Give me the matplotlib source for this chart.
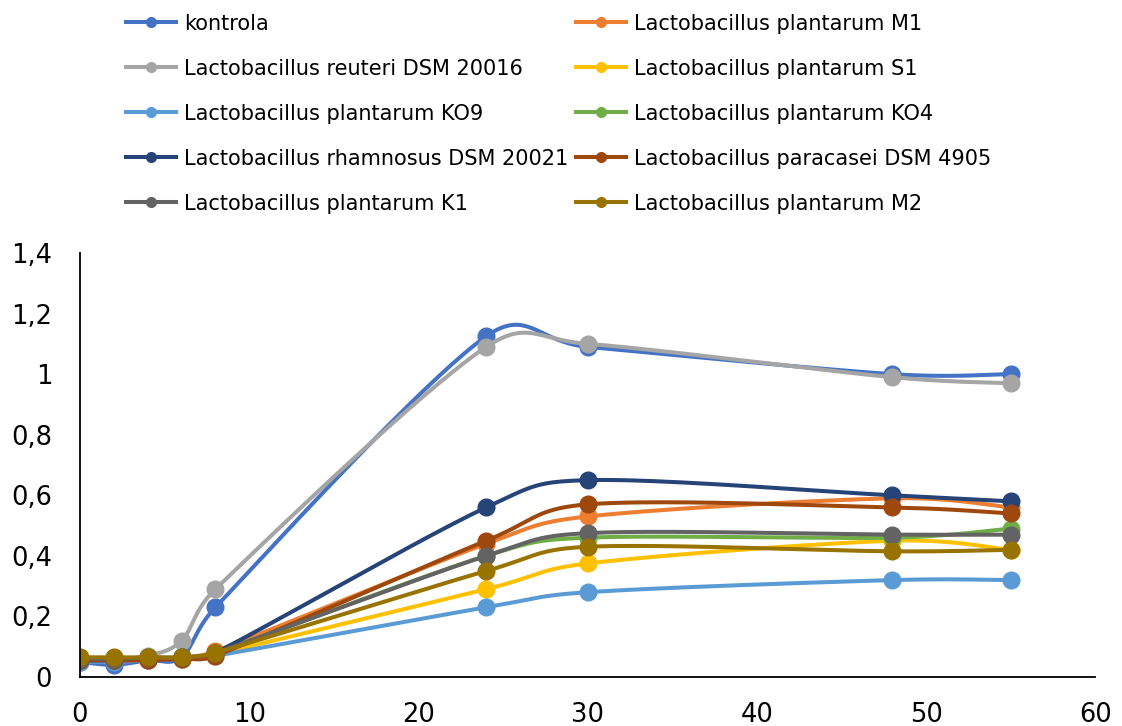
import numpy as np
import matplotlib
matplotlib.use("Agg")
import matplotlib.pyplot as plt
from matplotlib.ticker import FuncFormatter

x = [0, 2, 4, 6, 8, 24, 30, 48, 55]

names = ["kontrola",
         "Lactobacillus plantarum M1",
         "Lactobacillus reuteri DSM 20016",
         "Lactobacillus plantarum S1",
         "Lactobacillus plantarum KO9",
         "Lactobacillus plantarum KO4",
         "Lactobacillus rhamnosus DSM 20021",
         "Lactobacillus paracasei DSM 4905",
         "Lactobacillus plantarum K1",
         "Lactobacillus plantarum M2"]

kontrola = [0.05, 0.04, 0.055, 0.065, 0.23, 1.125, 1.09, 1.00, 1.00]
m1       = [0.06, 0.06, 0.06, 0.065, 0.085, 0.44, 0.53, 0.59, 0.56]
reuteri  = [0.06, 0.06, 0.07, 0.12, 0.29, 1.09, 1.10, 0.99, 0.97]
s1       = [0.055, 0.055, 0.06, 0.06, 0.075, 0.29, 0.375, 0.45, 0.42]
ko9      = [0.05, 0.05, 0.055, 0.06, 0.07, 0.23, 0.28, 0.32, 0.32]
ko4      = [0.06, 0.06, 0.06, 0.065, 0.08, 0.40, 0.46, 0.46, 0.49]
rhamn    = [0.055, 0.055, 0.06, 0.065, 0.08, 0.56, 0.65, 0.60, 0.58]
paracas  = [0.055, 0.055, 0.055, 0.06, 0.07, 0.45, 0.57, 0.56, 0.54]
k1       = [0.06, 0.06, 0.065, 0.065, 0.08, 0.40, 0.475, 0.47, 0.47]
m2       = [0.065, 0.065, 0.065, 0.065, 0.08, 0.35, 0.43, 0.415, 0.42]

series = [kontrola, m1, reuteri, s1, ko9, ko4, rhamn, paracas, k1, m2]
colors = ["#4472C4", "#ED7D31", "#A5A5A5", "#FFC000", "#5B9BD5",
          "#70AD47", "#264478", "#9E480E", "#636363", "#997300"]

fig = plt.figure(figsize=(11.22, 7.26), dpi=100)
ax = fig.add_axes([0.0713, 0.0675, 0.905, 0.584])
ax.set_xlim(0, 60)
ax.set_ylim(0, 1.4)


def smooth(xs, ys, n=40):
    # Excel-like Bezier smoothing, computed in display space
    pts = ax.transData.transform(np.column_stack([xs, ys]))
    out = []
    N = len(pts)
    for i in range(N - 1):
        p0 = pts[i - 1] if i > 0 else pts[i]
        p1 = pts[i]; p2 = pts[i + 1]
        p3 = pts[i + 2] if i + 2 < N else pts[i + 1]
        d12 = np.linalg.norm(p2 - p1)
        d02 = np.linalg.norm(p2 - p0)
        d13 = np.linalg.norm(p3 - p1)
        f1 = 1 / 6 if d02 == 0 else min(1 / 6, d12 / (2 * d02))
        f2 = 1 / 6 if d13 == 0 else min(1 / 6, d12 / (2 * d13))
        c1 = p1 + (p2 - p0) * f1
        c2 = p2 - (p3 - p1) * f2
        t = np.linspace(0, 1, n)[:, None]
        seg = ((1 - t) ** 3) * p1 + 3 * ((1 - t) ** 2) * t * c1 + 3 * (1 - t) * t ** 2 * c2 + t ** 3 * p2
        out.append(seg if i == 0 else seg[1:])
    S = ax.transData.inverted().transform(np.vstack(out))
    return S[:, 0], S[:, 1]


handles = []
for name, ys, c in zip(names, series, colors):
    sx, sy = smooth(x, ys)
    ax.plot(sx, sy, color=c, lw=2.9, solid_capstyle="round", zorder=2)
    ax.plot(x, ys, linestyle="none", marker="o", ms=12, color=c, zorder=2)
    h, = ax.plot([], [], color=c, lw=2.9, marker="o", ms=7, label=name)
    handles.append(h)

ax.set_xticks(range(0, 61, 10))
ax.set_yticks(np.arange(0, 1.41, 0.2))
ax.yaxis.set_major_formatter(FuncFormatter(lambda v, p: ("%g" % round(v, 1)).replace(".", ",")))
ax.tick_params(axis="y", length=0, labelsize=18.5, pad=20)
ax.tick_params(axis="x", length=0, labelsize=18.5, pad=18)
ax.spines["top"].set_visible(False)
ax.spines["right"].set_visible(False)
for s in ("left", "bottom"):
    ax.spines[s].set_linewidth(1.3)
    ax.spines[s].set_color("black")

# Excel legend fills row by row; matplotlib fills column by column
order = [0, 2, 4, 6, 8, 1, 3, 5, 7, 9]
fig.legend([handles[i] for i in order], [names[i] for i in order], ncol=2,
           loc="upper left", bbox_to_anchor=(0.1067, 0.990), borderaxespad=0.0,
           frameon=False, fontsize=15, handlelength=2.4, handletextpad=0.4,
           columnspacing=0.35, labelspacing=1.2, borderpad=0.3)

fig.savefig("out.png", dpi=100)
